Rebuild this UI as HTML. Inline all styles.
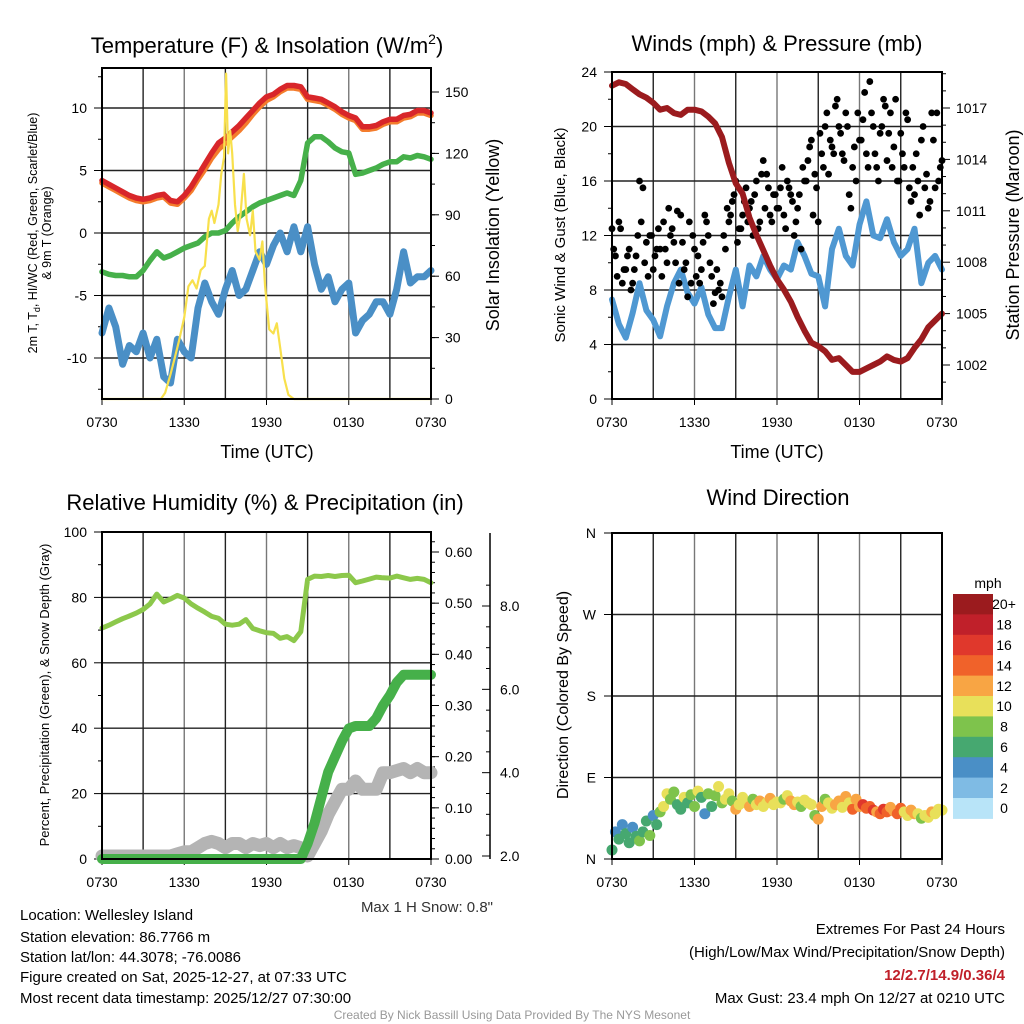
<!DOCTYPE html>
<html><head><meta charset="utf-8"><style>
html,body{margin:0;padding:0;background:#fff;}
svg{display:block;font-family:"Liberation Sans",Arial,sans-serif;}
</style></head><body>
<svg id="fig" width="1024" height="1024" viewBox="0 0 1024 1024" xmlns="http://www.w3.org/2000/svg">
<g id="layer"></g>
<text x="267" y="53" font-size="22" text-anchor="middle">Temperature (F) &amp; Insolation (W/m<tspan font-size="14" dy="-9">2</tspan><tspan dy="9">)</tspan></text>
<text x="777" y="51" font-size="22" text-anchor="middle">Winds (mph) &amp; Pressure (mb)</text>
<text x="265" y="510" font-size="22" text-anchor="middle">Relative Humidity (%) &amp; Precipitation (in)</text>
<text x="778" y="505" font-size="22" text-anchor="middle">Wind Direction</text>
<text x="267" y="458" font-size="18" text-anchor="middle">Time (UTC)</text>
<text x="777" y="458" font-size="18" text-anchor="middle">Time (UTC)</text>
<text transform="translate(37,233) rotate(-90)" font-size="12.5" text-anchor="middle">2m T, T<tspan font-size="9" dy="3">d</tspan><tspan dy="-3">, HI/WC (Red, Green, Scarlet/Blue)</tspan></text>
<text transform="translate(51,233) rotate(-90)" font-size="12.5" text-anchor="middle">&amp; 9m T (Orange)</text>
<text transform="translate(499,235) rotate(-90)" font-size="18" text-anchor="middle">Solar Insolation (Yellow)</text>
<text transform="translate(565,235) rotate(-90)" font-size="15" text-anchor="middle">Sonic Wind &amp; Gust (Blue, Black)</text>
<text transform="translate(1019,235) rotate(-90)" font-size="18" text-anchor="middle">Station Pressure (Maroon)</text>
<text transform="translate(49,695) rotate(-90)" font-size="13" text-anchor="middle">Percent, Precipitation (Green), &amp; Snow Depth (Gray)</text>
<text transform="translate(568,695) rotate(-90)" font-size="16" text-anchor="middle">Direction (Colored By Speed)</text>
<text x="493" y="912" font-size="15" text-anchor="end" fill="#333">Max 1 H Snow: 0.8"</text>
<g font-size="15">
<text x="20" y="920">Location: Wellesley Island</text>
<text x="20" y="942">Station elevation: 86.7766 m</text>
<text x="20" y="962">Station lat/lon: 44.3078; -76.0086</text>
<text x="20" y="982">Figure created on Sat, 2025-12-27, at 07:33 UTC</text>
<text x="20" y="1003">Most recent data timestamp: 2025/12/27 07:30:00</text>
</g>
<g font-size="15" text-anchor="end">
<text x="1005" y="934">Extremes For Past 24 Hours</text>
<text x="1005" y="957">(High/Low/Max Wind/Precipitation/Snow Depth)</text>
<text x="1005" y="980" font-weight="bold" fill="#c0202a">12/2.7/14.9/0.36/4</text>
<text x="1005" y="1003">Max Gust: 23.4 mph On 12/27 at 0210 UTC</text>
</g>
<text x="512" y="1019" font-size="12" fill="#999" text-anchor="middle">Created By Nick Bassill Using Data Provided By The NYS Mesonet</text>
</svg>
<script>
const xTicks=["0730","1330","1930","0130","0730"];
const tempRed=[4.2,3.9,3.6,3.3,3.0,2.8,2.7,2.8,3.0,3.1,2.6,2.5,3.0,3.7,4.6,5.5,6.4,7.2,7.6,8.1,8.6,9.2,9.8,10.4,10.9,11.1,11.5,11.8,11.8,11.7,10.9,10.8,10.7,10.4,10.1,9.7,9.4,9.2,8.5,8.5,8.6,8.9,9.1,9.1,9.4,9.5,9.8,9.8,9.6];
const temp9m=[4.0,3.7,3.4,3.1,2.8,2.6,2.5,2.6,2.8,2.9,2.4,2.3,2.8,3.4,4.3,5.1,6.0,6.7,7.2,7.7,8.2,8.8,9.5,10.1,10.6,10.9,11.3,11.6,11.6,11.5,10.7,10.6,10.5,10.2,9.9,9.5,9.2,9.0,8.3,8.3,8.4,8.7,8.9,8.9,9.2,9.3,9.6,9.6,9.4];
const dewGreen=[-3.1,-3.3,-3.4,-3.4,-3.5,-3.5,-3.0,-2.2,-1.5,-2.0,-1.8,-1.5,-1.2,-1.0,-0.8,-0.3,0.0,0.0,0.2,0.8,1.3,1.7,2.1,2.4,2.6,2.8,3.0,3.2,3.0,4.2,7.2,7.7,7.7,7.3,6.8,6.5,6.4,4.7,4.8,5.0,5.2,5.5,5.7,5.7,6.1,6.0,6.2,6.1,5.9];
const chillBlue=[-8,-6,-7.5,-10.5,-9,-9.5,-8,-10,-8.5,-11.5,-12,-8.5,-9.5,-10,-6,-4,-5.5,-6.5,-4.5,-3,-5,-4.5,-3,-1.5,-2.5,-1,0,-1.5,0.5,-1.5,0.5,-2.5,-4.5,-3.5,-5.5,-4.5,-4,-8,-7,-6.5,-5.5,-5.5,-6.5,-4.5,-1.5,-4,-3.5,-3.5,-3];
const solarHours=[0,4.3,4.6,5.0,5.3,5.6,6.0,6.3,6.6,6.9,7.2,7.5,7.8,8.0,8.2,8.5,8.7,8.9,9.05,9.2,9.35,9.5,9.7,9.9,10.1,10.35,10.55,10.8,11.0,11.2,11.5,11.7,11.9,12.2,12.5,12.75,13.0,13.3,13.6,14,24];
const solarVals=[0,0,3,12,20,28,40,55,58,54,63,65,88,92,86,95,110,118,159,120,131,120,95,82,90,110,88,80,92,72,68,77,55,34,32,37,25,10,2,0,0];
const windSonic=[7.3,5.5,4.5,6.3,8.5,6.5,5.8,4.6,6.8,8.5,9.5,7.8,7.0,8.2,6.2,5.2,5.2,7.5,9.5,6.8,9.8,9.0,10.5,9.5,8.8,9.8,9.5,11.5,10.5,9.2,9.0,6.8,11.0,12.5,10.5,9.8,12.8,14.5,12.0,11.8,13.2,11.5,10.5,11.0,12.5,8.5,10.0,10.5,9.5];
const windGust=[12.5,10.5,13,8.5,9.5,11,8.5,10.5,16,15.5,11.5,12,9.5,11,11,13,10,12,11.5,13.8,13.5,9.5,7.5,8.5,11,10.5,9.5,13.5,12,9,7.8,8,7.5,11,13,14.5,16,12.5,13.5,15.5,14,12,16,13,17.5,16.5,13.5,15,14,15.5,13.5,16,15,12,14,11,16,17.5,19,16.5,13,18,20,16.5,18.5,21.5,20,18,21,15,17,16,19,20.5,18,23.3,20,17,19.5,22,17.5,21,18.5,16,19.5,17,20.5,14.5,15,16,19,15.5,14,21,15.5,16,17.5];
const windGust2=[11,9,12.5,9.5,10.5,8,9.5,12,13,10,9,12,10.5,12.5,9,11,14,12.5,10,8.5,11.5,10,13,12,9,8.5,11.5,13,10,7,9.5,8.5,12,14,13.5,15,11.5,12.5,14.5,13,14.5,15,12.5,16.5,14,15.5,13,15,14,17,12.5,15.5,14.5,13,15,17,16,18.5,13.5,15.5,19.5,17,21,19,18,22,19.5,17.5,20,14,18.5,21,19,22.5,17,21,18,16,20,21.5,19.5,17,22,16,18,21,15.5,17,18,13.5,20,16.5,14.5,19,21,17];
const pressure=[1018.3,1018.5,1018.4,1018.1,1017.8,1017.6,1017.3,1016.9,1017.0,1016.7,1016.6,1016.9,1016.9,1016.8,1016.5,1016.1,1015.3,1013.8,1012.6,1012.0,1010.6,1009.6,1008.7,1007.8,1007.0,1006.4,1005.7,1004.8,1004.0,1003.3,1003.1,1002.8,1002.3,1002.4,1002.0,1001.6,1001.6,1001.8,1002.0,1002.2,1002.5,1002.3,1002.2,1002.4,1003.0,1003.5,1004.2,1004.6,1005.0];
const rh=[70.6,71.5,72.5,73.5,74.3,75.2,76.3,78,81,78.6,79.5,80.6,79.8,78,76.7,75.5,74.2,73.6,71.8,71.5,71.8,73.2,70.5,69.8,69.2,69.0,67.5,68.0,66.8,69.5,85.5,86.5,86.4,86.7,86.4,86.7,86.8,84.5,85.0,85.6,86.2,86.0,85.9,86.5,86.0,85.5,85.8,85.5,84.5];
const precip=[0,0,0,0,0,0,0,0,0,0,0,0,0,0,0,0,0,0,0,0,0,0,0,0,0,0,0,0,0,0,0.03,0.07,0.12,0.17,0.20,0.23,0.255,0.26,0.26,0.26,0.275,0.30,0.32,0.345,0.36,0.36,0.36,0.36,0.36];
const snowDepth=[2.0,2.0,2.0,2.0,2.0,2.0,2.0,2.0,2.0,2.0,2.0,2.05,2.1,2.1,2.2,2.3,2.35,2.3,2.2,2.3,2.3,2.2,2.3,2.25,2.3,2.2,2.3,2.2,2.25,2.2,2.0,2.3,2.6,3.0,3.3,3.6,3.6,3.8,3.6,3.6,3.6,4.0,4.0,4.05,4.1,4.0,4.1,4.0,4.0];
const windDir=[10,30,22,38,28,18,35,25,20,30,42,26,48,38,52,58,72,66,74,60,55,68,62,71,58,75,68,50,72,58,70,80,62,66,72,64,55,60,68,62,58,66,60,64,58,62,67,60,63,62,66,70,64,60,63,58,65,62,60,48,44,58,66,62,56,60,64,57,69,62,55,66,58,60,56,58,54,52,50,55,52,57,53,50,56,52,48,54,50,50,45,48,46,52,50,55,54];
const dirSpeed=[5,4,6,4,5,6,4,5,7,6,6,7,4,6,8,9,10,7,8,6,5,9,6,8,7,9,6,4,7,6,8,10,7,10,9,8,11,10,9,10,11,8,10,11,9,10,11,10,9,10,8,9,11,12,10,8,9,9,10,7,12,11,8,9,10,12,11,9,12,10,13,12,11,15,14,13,16,12,14,15,13,12,11,13,14,10,9,11,12,10,8,9,10,11,10,9,10];
const speedLabels=["0","2","4","6","8","10","12","14","16","18","20+"];
const speedColors=["#b8e4f8","#7fbbe4","#4a8fc6","#46a870","#7ec34c","#e8e05a","#f8a544","#f0622a","#e0382c","#c0202a","#9b1b1e"];

const NS="http://www.w3.org/2000/svg";
const layer=document.getElementById('layer');
function mk(tag,attrs,parent){const e=document.createElementNS(NS,tag);for(const k in attrs)e.setAttribute(k,attrs[k]);(parent||layer).appendChild(e);return e;}
function txt(x,y,s,size,anchor,parent){const t=mk('text',{x:x,y:y,'font-size':size,'text-anchor':anchor},parent);t.textContent=s;return t;}
function lin(d0,d1,r0,r1){return v=>r0+(v-d0)*(r1-r0)/(d1-d0);}
function pathOf(xs,ys){return xs.map((x,i)=>(i?'L':'M')+x.toFixed(1)+','+ys[i].toFixed(1)).join('');}

function panel(L,R,T,B,name){
  const g=mk('g',{});
  
  
  const xs=lin(0,24,L,R);
  for(let h=3;h<24;h+=3){const ln=mk('line',{x1:xs(h),x2:xs(h),y1:T,y2:B,stroke:(h%6===0)?'#777':'#222','stroke-width':1.4},g);}
  for(let i=0;i<xTicks.length;i++){const h=i*6;mk('line',{x1:xs(h),x2:xs(h),y1:B,y2:B+6,stroke:'#000','stroke-width':1},g);const t=txt(xs(h),B+28,xTicks[i],14,'middle',g);}
  return {g,xs};
}
function frame(L,R,T,B,g){const r=mk('rect',{x:L,y:T,width:R-L,height:B-T,fill:'none',stroke:'#000','stroke-width':2},g);}
function hgrid(g,L,R,y){const l=mk('line',{x1:L,x2:R,y1:y,y2:y,stroke:'#222','stroke-width':1.4},g);}
function leftTicks(g,L,ys,vals,minor,labels,off){vals.forEach((v,i)=>{mk('line',{x1:L-8,x2:L,y1:ys(v),y2:ys(v),stroke:'#000'},g);const t=txt(L-(off||15),ys(v)+5,labels?labels[i]:String(v),14,'end',g);});(minor||[]).forEach(v=>mk('line',{x1:L-4,x2:L,y1:ys(v),y2:ys(v),stroke:'#000'},g));}
function rightTicks(g,R,ys,vals,minor,labels){vals.forEach((v,i)=>{mk('line',{x1:R,x2:R+8,y1:ys(v),y2:ys(v),stroke:'#000'},g);const t=txt(R+14,ys(v)+5,labels?labels[i]:String(v),14,'start',g);});(minor||[]).forEach(v=>mk('line',{x1:R,x2:R+4,y1:ys(v),y2:ys(v),stroke:'#000'},g));}
function series(g,xs,vals,ys,color,w,name,op){const hrs=vals.map((_,i)=>i*0.5);const p=mk('path',{d:pathOf(hrs.map(xs),vals.map(ys)),fill:'none',stroke:color,'stroke-width':w,'stroke-linejoin':'round','stroke-linecap':'round',opacity:op||1},g);return p;}

// Panel 1
(function(){
  const L=102,R=431,T=68,B=399;
  const {g,xs}=panel(L,R,T,B,'temperature-panel');
  const ys=lin(0,13.2,233,68);
  const ysR=lin(0,150,399,92);
  [-10,-5,0,5,10].forEach(v=>hgrid(g,L,R,ys(v)));
  const minor=[];for(let v=-12.5;v<=12.5;v+=2.5)minor.push(v);
  leftTicks(g,L,ys,[-10,-5,0,5,10],minor);
  const rmin=[];for(let v=15;v<160;v+=15)rmin.push(v);
  rightTicks(g,R,ysR,[0,30,60,90,120,150],rmin);
  series(g,xs,chillBlue,ys,'#4a8fc6',7,'wind-chill-line');
  series(g,xs,dewGreen,ys,'#46b04a',5.5,'dewpoint-line');
  series(g,xs,temp9m,ys,'#f47c2c',5.5,'temp-9m-line');
  series(g,xs,tempRed,ys,'#d8262a',5.5,'temp-2m-line');
  const p=mk('path',{d:pathOf(solarHours.map(xs),solarVals.map(ysR)),fill:'none',stroke:'#f8e04c','stroke-width':2.2,'stroke-linejoin':'round'},g);
  
  
  frame(L,R,T,B,g);
})();

// Panel 2
(function(){
  const L=612,R=942,T=72,B=399;
  const {g,xs}=panel(L,R,T,B,'winds-panel');
  const ys=lin(0,24,399,72);
  const ysR=lin(1002,1017,365,108);
  [4,8,12,16,20].forEach(v=>hgrid(g,L,R,ys(v)));
  const minor=[];for(let v=2;v<24;v+=4)minor.push(v);
  leftTicks(g,L,ys,[0,4,8,12,16,20,24],minor);
  const rmin=[];for(let v=1000;v<=1019;v+=1)rmin.push(v);
  rightTicks(g,R,ysR,[1002,1005,1008,1011,1014,1017],rmin.filter(v=>v%3!==0&&ysR(v)>T&&ysR(v)<B));
  series(g,xs,windSonic,ys,'#4f98d2',6,'sonic-wind-line');
  windGust.forEach((v,i)=>{const c=mk('circle',{cx:xs(i*0.25),cy:ys(v),r:3.4,fill:'#000'},g);});
  windGust2.forEach((v,i)=>{const c=mk('circle',{cx:xs(i*0.25+0.125),cy:ys(v),r:3.4,fill:'#000'},g);});
  series(g,xs,pressure,ysR,'#9b1b1e',6,'pressure-line');
  frame(L,R,T,B,g);
})();

// Panel 3
(function(){
  const L=102,R=431,T=532,B=859;
  const {g,xs}=panel(L,R,T,B,'humidity-panel');
  const ys=lin(0,100,859,532);
  const ysP=lin(0,0.6,859,552);
  const ysS=lin(2,8,856,606);
  [20,40,60,80].forEach(v=>hgrid(g,L,R,ys(v)));
  const minor=[];for(let v=10;v<100;v+=20)minor.push(v);
  leftTicks(g,L,ys,[0,20,40,60,80,100],minor);
  const pmin=[];for(let v=0.02;v<0.63;v+=0.02)pmin.push(+v.toFixed(2));
  rightTicks(g,R,ysP,[0,0.1,0.2,0.3,0.4,0.5,0.6],pmin,["0.00","0.10","0.20","0.30","0.40","0.50","0.60"]);
  const ax=mk('line',{x1:490,x2:490,y1:533,y2:859,stroke:'#000','stroke-width':1.5},g);
  
  
  [2,4,6,8].forEach(v=>{mk('line',{x1:482,x2:490,y1:ysS(v),y2:ysS(v),stroke:'#000'},g);const t=txt(500,ysS(v)+5,v.toFixed(1),14,'start',g);});
  for(let v=2.5;v<9;v+=0.5){if(v%2!==0&&ysS(v)>533)mk('line',{x1:486,x2:490,y1:ysS(v),y2:ysS(v),stroke:'#000'},g);}
  series(g,xs,rh,ys,'#8cc84b',5,'relative-humidity-line');
  series(g,xs,snowDepth,ysS,'#b4b4b4',13,'snow-depth-line');
  series(g,xs,precip,ysP,'#46b04a',10,'precipitation-line');
  frame(L,R,T,B,g);
})();

// Panel 4
(function(){
  const L=612,R=942,T=533,B=859;
  const {g,xs}=panel(L,R,T,B,'wind-direction-panel');
  const ys=lin(0,360,859,533);
  [90,180,270].forEach(v=>hgrid(g,L,R,ys(v)));
  leftTicks(g,L,ys,[0,90,180,270,360],[],["N","E","S","W","N"],16);
  windDir.forEach((d,i)=>{const s=dirSpeed[i];const idx=Math.min(10,Math.floor((s+1)/2));const c=mk('circle',{cx:xs(i*0.25),cy:ys(d),r:5.5,fill:speedColors[idx]},g);});
  frame(L,R,T,B,g);
  const cb=mk('g',{});
  
  
  const t0=txt(988,588,'mph',14,'middle',cb);
  const h=20.4;
  for(let i=0;i<11;i++){const k=10-i;const y=594+i*h;const r=mk('rect',{x:953,y:y,width:40,height:h+0.5,fill:speedColors[k]},cb);const t=txt(1004,y+h/2+5,speedLabels[k],14,'middle',cb);}
})();
</script>
</body></html>
